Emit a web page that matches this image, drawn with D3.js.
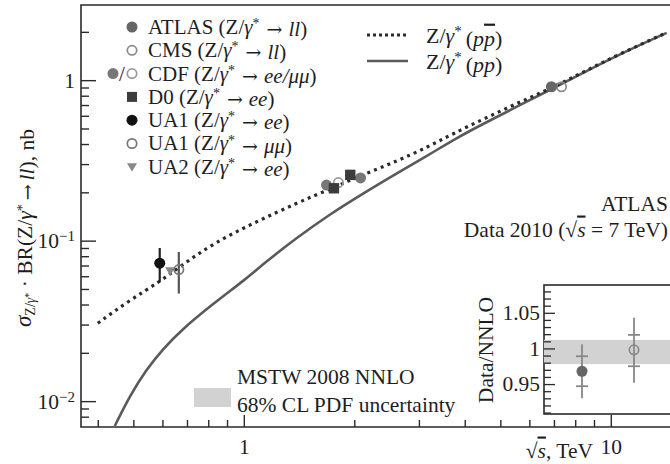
<!DOCTYPE html>
<html><head><meta charset="utf-8">
<script src="https://cdn.jsdelivr.net/npm/d3@7"></script>
<style>
body{margin:0;background:#fff}
svg{display:block}
text{font-family:"Liberation Serif","Times New Roman",serif;fill:#1e1e1e}
</style>
</head><body><svg id="c" width="670" height="464"></svg>
<script>
// ---------- data ----------
const ppbarSqrtS = [0.40, 0.49, 0.59, 0.67, 0.83, 1.08, 1.39, 1.72, 2.11, 2.61, 3.15, 3.72, 4.59, 5.65, 6.96, 8.59, 10.6, 14.2];
const ppbarSigma = [0.0306, 0.0427, 0.0555, 0.0690, 0.097, 0.131, 0.171, 0.210, 0.257, 0.313, 0.380, 0.465, 0.585, 0.730, 0.903, 1.150, 1.460, 1.977];
const ppSqrtS = [0.445, 0.489, 0.543, 0.603, 0.669, 0.825, 1.017, 1.129, 1.392, 1.715, 2.114, 2.606, 3.213, 3.718, 4.585, 5.649, 6.964, 8.59, 10.6, 14.2];
const ppSigma = [0.0070, 0.0108, 0.0158, 0.0212, 0.0272, 0.0405, 0.0580, 0.0715, 0.104, 0.146, 0.197, 0.262, 0.345, 0.425, 0.548, 0.698, 0.890, 1.140, 1.455, 1.970];

const atlasS = [6.89], atlasSigma = [0.91];
const cmsS = [7.34], cmsSigma = [0.91];
const cdfFilledS = [1.68, 2.08], cdfFilledSigma = [0.222, 0.246];
const cdfOpenS = [1.81], cdfOpenSigma = [0.230];
const d0S = [1.76, 1.95], d0Sigma = [0.212, 0.257];
const ua1eeS = [0.59], ua1eeSigma = [0.0724], ua1eeLo = [0.0553], ua1eeHi = [0.090];
const ua1mmS = [0.665], ua1mmSigma = [0.066], ua1mmLo = [0.0468], ua1mmHi = [0.085];
const ua2S = [0.63], ua2Sigma = [0.065];

const xMajorTicks = [1, 10];
const xMajorLabels = ["1", "10"];
const xMinorTicks = [0.4, 0.5, 0.6, 0.7, 0.8, 0.9, 2, 3, 4, 5, 6, 7, 8, 9];
const yMajorTicks = [0.01, 0.1, 1];
const yMajorExp = ["\u22122", "\u22121", ""];
const yMinorTicks = [0.008, 0.009, 0.02, 0.03, 0.04, 0.05, 0.06, 0.07, 0.08, 0.09, 0.2, 0.3, 0.4, 0.5, 0.6, 0.7, 0.8, 0.9, 2];

const legendNames = ["ATLAS", "CMS", "CDF", "D0", "UA1", "UA1", "UA2"];
const legendProc = ["ll", "ll", "ee/\u03bc\u03bc", "ee", "ee", "\u03bc\u03bc", "ee"];
const legendMarker = ["atlas", "cms", "cdf", "d0", "ua1ee", "ua1mm", "ua2"];

const insetExperiments = ["ATLAS", "CMS"];
const insetRatio = [0.968, 0.998];
const insetTotLo = [0.930, 0.952], insetTotHi = [1.006, 1.043];
const insetStatLo = [0.947, 0.975], insetStatHi = [0.989, 1.019];
const insetBand = [0.978, 1.012];
const insetMajor = [0.95, 1, 1.05];
const insetMajorLabels = ["0.95", "1", "1.05"];
const insetMinor = [0.91, 0.92, 0.93, 0.94, 0.96, 0.97, 0.98, 0.99, 1.01, 1.02, 1.03, 1.04, 1.06, 1.07, 1.08];

// ---------- layout ----------
const svg = d3.select("#c");
const L = 81, R = 670, T = 5, B = 427;
const x = d3.scaleLog().domain([0.36, 14.5]).range([L, R]);
const y = d3.scaleLog().domain([0.0069, 2.94]).range([B, T]);
const FS = 21.5;
const LFS = 21;
const ARROWFONT = "DejaVu Serif";

const defs = svg.append("defs");
defs.append("clipPath").attr("id", "plotclip").append("rect")
  .attr("x", L).attr("y", T).attr("width", R - L).attr("height", B - T);

const ink = "#2a2a2a";

// axes (ticks pointing inward)
const gx = svg.append("g").attr("transform", `translate(0,${B})`);
gx.call(d3.axisBottom(x).tickValues(xMinorTicks).tickSize(-7).tickFormat(""));
const gx2 = svg.append("g").attr("transform", `translate(0,${B})`);
gx2.call(d3.axisBottom(x).tickValues(xMajorTicks).tickSize(-12).tickPadding(12)
  .tickFormat((d, i) => xMajorLabels[i]));
const gy = svg.append("g").attr("transform", `translate(${L},0)`);
gy.call(d3.axisLeft(y).tickValues(yMinorTicks).tickSize(-8).tickFormat(""));
const gy2 = svg.append("g").attr("transform", `translate(${L},0)`);
gy2.call(d3.axisLeft(y).tickValues(yMajorTicks).tickSize(-15).tickFormat(""));
[gx, gx2, gy, gy2].forEach(g => {
  g.select(".domain").remove();
  g.selectAll("line").attr("stroke", ink).attr("stroke-width", 1.4);
  g.selectAll("text").attr("font-size", FS).attr("font-family", "Liberation Serif").attr("fill", "#1e1e1e");
});
// y major labels
yMajorTicks.forEach((v, i) => {
  const t = svg.append("text").attr("x", 75).attr("y", y(v)).attr("dy", "0.35em")
    .attr("text-anchor", "end").attr("font-size", FS);
  if (yMajorExp[i] === "") { t.text("1"); }
  else {
    t.append("tspan").text("10");
    t.append("tspan").attr("dy", "-0.45em").attr("font-size", 15).text(yMajorExp[i]);
  }
});

// frame
svg.append("path").attr("d", `M${R},${T}H${L}V${B}H${R}`)
  .attr("fill", "none").attr("stroke", ink).attr("stroke-width", 1.6);

// curves
const plot = svg.append("g").attr("clip-path", "url(#plotclip)");
const line = d3.line().curve(d3.curveBasis);
plot.append("path")
  .attr("d", line(ppSqrtS.map((s, i) => [x(s), y(ppSigma[i])])))
  .attr("fill", "none").attr("stroke", "#5a5a5a").attr("stroke-width", 2.6);
plot.append("path")
  .attr("d", line(ppbarSqrtS.map((s, i) => [x(s), y(ppbarSigma[i])])))
  .attr("fill", "none").attr("stroke", "#2a2a2a").attr("stroke-width", 3.2)
  .attr("stroke-dasharray", "3,4.2");

// marker drawing
const styles = {
  atlas: {shape: "circle", fill: "#666", stroke: "none"},
  cms: {shape: "circle", fill: "none", stroke: "#8a8a8a"},
  cdfF: {shape: "circle", fill: "#777", stroke: "none"},
  cdfO: {shape: "circle", fill: "none", stroke: "#999"},
  d0: {shape: "square", fill: "#3c3c3c", stroke: "none"},
  ua1ee: {shape: "circle", fill: "#111", stroke: "none"},
  ua1mm: {shape: "circle", fill: "none", stroke: "#777"},
  ua2: {shape: "tri", fill: "#888", stroke: "none"}
};
function marker(g, cx, cy, key, r) {
  const s = styles[key];
  r = r || 5.5;
  let el;
  if (s.shape === "circle") {
    el = g.append("circle").attr("cx", cx).attr("cy", cy).attr("r", s.fill === "none" ? r - 0.8 : r);
  } else if (s.shape === "square") {
    el = g.append("rect").attr("x", cx - r).attr("y", cy - r).attr("width", 2 * r).attr("height", 2 * r);
  } else {
    el = g.append("path").attr("d", `M${cx - r},${cy - r * 0.7}L${cx + r},${cy - r * 0.7}L${cx},${cy + r * 1.0}Z`);
  }
  el.attr("fill", s.fill).attr("stroke", s.stroke).attr("stroke-width", s.stroke === "none" ? 0 : 1.7);
}

// error bars (UA)
function errbar(sArr, lo, hi, col) {
  sArr.forEach((s, i) => {
    plot.append("line").attr("x1", x(s)).attr("x2", x(s)).attr("y1", y(lo[i])).attr("y2", y(hi[i]))
      .attr("stroke", col).attr("stroke-width", 2.2);
  });
}
errbar(ua1eeS, ua1eeLo, ua1eeHi, "#222");
errbar(ua1mmS, ua1mmLo, ua1mmHi, "#555");

const pts = svg.append("g");
ua2S.forEach((s, i) => marker(pts, x(s), y(ua2Sigma[i]), "ua2", 5));
ua1mmS.forEach((s, i) => marker(pts, x(s), y(ua1mmSigma[i]), "ua1mm"));
ua1eeS.forEach((s, i) => marker(pts, x(s), y(ua1eeSigma[i]), "ua1ee"));
cdfFilledS.forEach((s, i) => marker(pts, x(s), y(cdfFilledSigma[i]), "cdfF"));
cdfOpenS.forEach((s, i) => marker(pts, x(s), y(cdfOpenSigma[i]), "cdfO"));
d0S.forEach((s, i) => marker(pts, x(s), y(d0Sigma[i]), "d0", 5.2));
cmsS.forEach((s, i) => marker(pts, x(s), y(cmsSigma[i]), "cms"));
atlasS.forEach((s, i) => marker(pts, x(s), y(atlasSigma[i]), "atlas"));

// helper: Z/γ* text pieces
function zgamma(t, supSize) {
  t.append("tspan").text("Z/");
  t.append("tspan").attr("font-style", "italic").text("\u03b3");
  t.append("tspan").attr("dy", "-0.42em").attr("font-size", supSize).text("*");
}

// ---------- legend (markers) ----------
const leg = svg.append("g");
legendNames.forEach((n, i) => {
  const cy = 27 + i * 23.3;
  const mk = legendMarker[i];
  if (mk === "cdf") {
    marker(leg, 113, cy, "cdfF", 5.5);
    leg.append("text").attr("x", 122).attr("y", cy).attr("dy", "0.35em").attr("text-anchor", "middle")
      .attr("font-size", LFS).text("/");
    marker(leg, 132, cy, "cdfO", 5.5);
  } else if (mk === "d0") {
    marker(leg, 132, cy, "d0", 5);
  } else if (mk === "ua2") {
    marker(leg, 132, cy, "ua2", 5);
  } else {
    marker(leg, 132, cy, mk, 5.5);
  }
  const t = leg.append("text").attr("x", 148).attr("y", cy).attr("dy", "0.33em").attr("font-size", LFS);
  t.append("tspan").text(n + " (");
  zgamma(t, 14);
  t.append("tspan").attr("dy", "0.42em").attr("dx", 7).attr("font-family", ARROWFONT).attr("font-size", 19).text("\u2192");
  t.append("tspan").attr("dx", 6).attr("font-style", "italic").text(legendProc[i]);
  t.append("tspan").text(")");
});

// legend (lines)
const ll = svg.append("g");
[35, 61].forEach((cy, i) => {
  ll.append("line").attr("x1", 367).attr("x2", 408).attr("y1", cy).attr("y2", cy)
    .attr("stroke", i === 0 ? "#2a2a2a" : "#5a5a5a").attr("stroke-width", i === 0 ? 3.2 : 2.6)
    .attr("stroke-dasharray", i === 0 ? "3,3" : null);
  const t = ll.append("text").attr("x", 426).attr("y", cy).attr("dy", "0.35em").attr("font-size", 22);
  zgamma(t, 15);
  t.append("tspan").attr("dy", "0.42em").attr("dx", 4).text("(");
  if (i === 0) {
    t.append("tspan").attr("font-style", "italic").text("p");
    t.append("tspan").attr("font-style", "italic").style("text-decoration", "overline").text("p");
  } else {
    t.append("tspan").attr("font-style", "italic").text("pp");
  }
  t.append("tspan").text(")");
});

// MSTW band legend
svg.append("rect").attr("x", 194).attr("y", 388).attr("width", 37).attr("height", 19).attr("fill", "#d2d2d2");
svg.append("text").attr("x", 237).attr("y", 376).attr("dy", "0.35em").attr("font-size", FS).text("MSTW 2008 NNLO");
svg.append("text").attr("x", 237).attr("y", 404).attr("dy", "0.35em").attr("font-size", FS).text("68% CL PDF uncertainty");

// ATLAS label
svg.append("text").attr("x", 668).attr("y", 203).attr("dy", "0.35em").attr("text-anchor", "end").attr("font-size", FS).text("ATLAS");
const dt = svg.append("text").attr("x", 668).attr("y", 229).attr("dy", "0.35em").attr("text-anchor", "end").attr("font-size", FS);
dt.append("tspan").text("Data 2010 (\u221a");
dt.append("tspan").attr("font-style", "italic").style("text-decoration", "overline").text("s");
dt.append("tspan").text(" = 7 TeV)");

// axis titles
const xt = svg.append("text").attr("x", 593).attr("y", 450).attr("dy", "0.35em").attr("text-anchor", "end").attr("font-size", FS);
xt.append("tspan").text("\u221a");
xt.append("tspan").attr("font-style", "italic").style("text-decoration", "overline").text("s");
xt.append("tspan").text(", TeV");

const yt = svg.append("text").attr("transform", "translate(31,228) rotate(-90)").attr("text-anchor", "middle").attr("font-size", FS);
yt.append("tspan").attr("font-style", "italic").attr("font-size", 23).text("\u03c3");
yt.append("tspan").attr("dy", "0.3em").attr("font-size", 14).text("Z/");
yt.append("tspan").attr("font-size", 14).attr("font-style", "italic").text("\u03b3");
yt.append("tspan").attr("dy", "-0.3em").attr("font-size", 10).text("*");
yt.append("tspan").attr("dy", "0em").text(" \u00b7 BR(Z/");
yt.append("tspan").attr("font-style", "italic").text("\u03b3");
yt.append("tspan").attr("dy", "-0.4em").attr("font-size", 14).text("*");
yt.append("tspan").attr("dy", "0.4em").attr("dx", 4).attr("font-family", ARROWFONT).attr("font-size", 19).text("\u2192");
yt.append("tspan").attr("dx", 4).attr("font-style", "italic").text("ll");
yt.append("tspan").text("), nb");

// ---------- inset ----------
const IL = 544, IT = 285, IB = 414, IR = 740;
const iy = d3.scaleLinear().domain([0.908, 1.089]).range([IB, IT]);
const ix = d3.scalePoint().domain(insetExperiments).range([582, 634]);
defs.append("clipPath").attr("id", "insetclip").append("rect")
  .attr("x", IL).attr("y", IT).attr("width", IR - IL).attr("height", IB - IT);
svg.append("rect").attr("x", IL).attr("y", IT).attr("width", IR - IL).attr("height", IB - IT)
  .attr("fill", "#fff").attr("stroke", ink).attr("stroke-width", 1.6);
const ig = svg.append("g").attr("clip-path", "url(#insetclip)");
ig.append("rect").attr("x", IL).attr("y", iy(insetBand[1])).attr("width", IR - IL)
  .attr("height", iy(insetBand[0]) - iy(insetBand[1])).attr("fill", "#d2d2d2");
const giy = svg.append("g").attr("transform", `translate(${IL},0)`);
giy.call(d3.axisLeft(iy).tickValues(insetMinor).tickSize(-7).tickFormat(""));
const giy2 = svg.append("g").attr("transform", `translate(${IL},0)`);
giy2.call(d3.axisLeft(iy).tickValues(insetMajor).tickSize(-11).tickPadding(5).tickFormat((d, i) => insetMajorLabels[i]));
[giy, giy2].forEach(g => {
  g.select(".domain").remove();
  g.selectAll("line").attr("stroke", ink).attr("stroke-width", 1.3);
  g.selectAll("text").attr("font-size", FS).attr("font-family", "Liberation Serif").attr("fill", "#1e1e1e")
    .attr("x", -4);
});
insetExperiments.forEach((e, i) => {
  const cx = ix(e);
  ig.append("line").attr("x1", cx).attr("x2", cx).attr("y1", iy(insetTotLo[i])).attr("y2", iy(insetTotHi[i]))
    .attr("stroke", "#888").attr("stroke-width", 1.8);
  [insetStatLo[i], insetStatHi[i]].forEach(v => {
    ig.append("line").attr("x1", cx - 6).attr("x2", cx + 6).attr("y1", iy(v)).attr("y2", iy(v))
      .attr("stroke", "#888").attr("stroke-width", 1.8);
  });
  marker(ig, cx, iy(insetRatio[i]), e === "ATLAS" ? "atlas" : "cms", 5.5);
});
svg.append("text").attr("transform", "translate(493,350) rotate(-90)").attr("text-anchor", "middle")
  .attr("font-size", FS).text("Data/NNLO");
</script></body></html>
